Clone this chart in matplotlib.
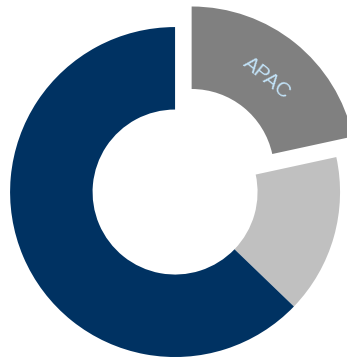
import matplotlib
matplotlib.use("Agg")
import matplotlib.pyplot as plt
import numpy as np

# Regional share, clockwise from twelve o'clock
regions = ["APAC", "", ""]
shares = [21.6, 15.6, 62.8]
colors = ["#808080", "#c0c0c0", "#003262"]
explode = [0.16, 0, 0]

fig = plt.figure(figsize=(3.47, 3.60), dpi=100)
ax = fig.add_axes([0, 0, 1, 1])

wedges, _ = ax.pie(
    shares,
    colors=colors,
    explode=explode,
    startangle=90,
    counterclock=False,
    radius=1.0,
    wedgeprops=dict(width=0.5, linewidth=0),
)

# Label the exploded wedge along its ring, rotated with the tangent
w = wedges[0]
mid = np.deg2rad((w.theta1 + w.theta2) / 2)
cx, cy = w.center
r = 0.73
ax.text(
    cx + r * np.cos(mid), cy + r * np.sin(mid), regions[0],
    rotation=np.rad2deg(mid) - 90, rotation_mode="anchor",
    ha="center", va="center", color="#c2e2f7",
    fontsize=15, family="Liberation Sans",
)

ax.set_xlim(-1.061, 1.042)
ax.set_ylim(-1.018, 1.164)
ax.set_aspect("equal")
ax.axis("off")

fig.savefig("out.png", dpi=100)
